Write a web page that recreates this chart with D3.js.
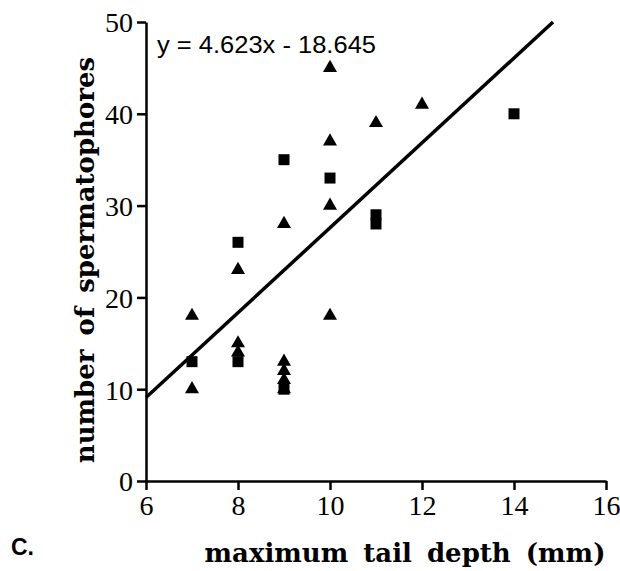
<!DOCTYPE html>
<html><head><meta charset="utf-8">
<script src="https://cdn.jsdelivr.net/npm/d3@7"></script>
<style>body{margin:0;background:#fff}svg{display:block}</style>
</head><body>
<svg id="c" width="620" height="571"></svg>
<script>
const triangleX = [7, 7, 8, 8, 8, 9, 9, 9, 9, 9, 10, 10, 10, 10, 11, 12];
const triangleY = [18, 10, 23, 15, 14, 28, 13, 12, 11, 10, 45, 37, 30, 18, 39, 41];
const squareX = [7, 8, 8, 9, 9, 10, 11, 11, 14];
const squareY = [13, 26, 13, 35, 10, 33, 29, 28, 40];
const xTicks = [6, 8, 10, 12, 14, 16];
const yTicks = [0, 10, 20, 30, 40, 50];
const slope = 4.623, intercept = -18.645;
const xTitle = "maximum tail depth (mm)";
const yTitle = "number of spermatophores";
const eqText = "y = 4.623x - 18.645";
const panelLabel = "C.";

const svg = d3.select("#c");
const x = d3.scaleLinear().domain([6, 16]).range([146, 606]);
const y = d3.scaleLinear().domain([0, 50]).range([481, 22]);

const xAxis = svg.append("g").attr("transform", "translate(0,481)")
  .call(d3.axisBottom(x).tickValues(xTicks).tickSize(9).tickSizeOuter(0).tickPadding(5));
const yAxis = svg.append("g").attr("transform", "translate(146,0)")
  .call(d3.axisLeft(y).tickValues(yTicks).tickSize(9).tickSizeOuter(0).tickPadding(4));
[xAxis, yAxis].forEach(a => {
  a.select(".domain").attr("stroke", "#000").attr("stroke-width", 2.5);
  a.selectAll(".tick line").attr("stroke", "#000").attr("stroke-width", 2.5);
  a.selectAll("text").attr("font-family", "Liberation Serif, serif").attr("font-size", 28).attr("fill", "#000");
});
xAxis.selectAll("text").attr("dy", "0.71em");
yAxis.selectAll("text").attr("dy", "0.35em");

// regression line
const xEnd = (50 - intercept) / slope;
svg.append("line")
  .attr("x1", x(6)).attr("y1", y(slope * 6 + intercept))
  .attr("x2", x(xEnd)).attr("y2", y(50))
  .attr("stroke", "#000").attr("stroke-width", 3.5);

const tri = d3.symbol().type(d3.symbolTriangle).size(85);
svg.append("g").selectAll("path").data(triangleX.map((v, i) => [v, triangleY[i]]))
  .join("path").attr("d", tri)
  .attr("transform", d => `translate(${x(d[0])},${y(d[1])})`).attr("fill", "#000");
const sq = d3.symbol().type(d3.symbolSquare).size(121);
svg.append("g").selectAll("path").data(squareX.map((v, i) => [v, squareY[i]]))
  .join("path").attr("d", sq)
  .attr("transform", d => `translate(${x(d[0])},${y(d[1])})`).attr("fill", "#000");

svg.append("text").attr("x", 157).attr("y", 53)
  .attr("font-family", "Liberation Sans, sans-serif").attr("font-size", 23)
  .attr("textLength", 219).attr("lengthAdjust", "spacingAndGlyphs")
  .text(eqText);

svg.append("text").attr("x", 405).attr("y", 562).attr("text-anchor", "middle")
  .attr("font-family", "DejaVu Serif, serif").attr("font-weight", "bold").attr("font-size", 26)
  .attr("word-spacing", 6)
  .text(xTitle);

svg.append("text").attr("transform", "translate(94,260) rotate(-90)").attr("text-anchor", "middle")
  .attr("font-family", "DejaVu Serif, serif").attr("font-weight", "bold").attr("font-size", 26)
  .attr("word-spacing", 5)
  .text(yTitle);

svg.append("text").attr("x", 11).attr("y", 555)
  .attr("font-family", "Liberation Sans, sans-serif").attr("font-weight", "bold").attr("font-size", 23)
  .text(panelLabel);
</script>
</body></html>
